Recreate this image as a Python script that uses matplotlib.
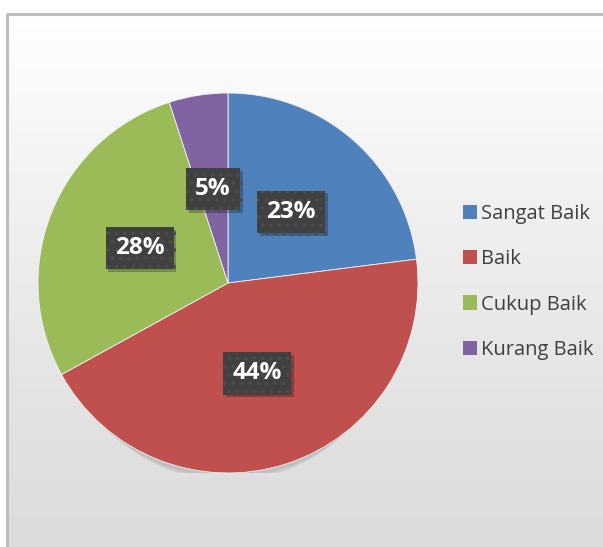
import matplotlib
matplotlib.use("Agg")
import matplotlib.pyplot as plt
import matplotlib.patheffects as pe
from matplotlib.patches import Ellipse
import numpy as np

# Data
categories = ["Sangat Baik", "Baik", "Cukup Baik", "Kurang Baik"]
values = [23, 44, 28, 5]
colors = ["#4F81BD", "#C0504D", "#9BBB59", "#8064A2"]

W, H = 603, 547
plt.rcParams["font.family"] = ["Open Sans", "DejaVu Sans"]
plt.rcParams["hatch.linewidth"] = 1.4

fig = plt.figure(figsize=(W / 100, H / 100), dpi=100)
fig.patch.set_facecolor("white")

# Background panel with vertical gradient and grey frame
bg = fig.add_axes([0, 0, 1, 1])
bg.set_xlim(0, W)
bg.set_ylim(H, 0)
bg.axis("off")
grad = np.linspace(1.0, 0.0, 256) ** 1.2
grad = np.vstack([grad, grad]).T
bg.imshow(grad, extent=[7, W, H, 14], cmap=matplotlib.colors.LinearSegmentedColormap.from_list(
    "bgc", ["#dcdcdc", "#ffffff"]), vmin=0, vmax=1, aspect="auto", zorder=0)
bg.plot([7, 7, W], [H, 14, 14], color="#bdbdbd", lw=2.2, zorder=1, solid_capstyle="butt")

# Pie axes
cx, cy, r = 228, 283, 190
ax = fig.add_axes([(cx - r) / W, (H - cy - r) / H, 2 * r / W, 2 * r / H])
ax.set_xlim(-1, 1)
ax.set_ylim(-1, 1)
ax.axis("off")

# soft shadow below the pie
for k in range(8):
    ax.add_patch(Ellipse((0, -0.02 - 0.004 * k), 1.96 - 0.02 * k, 2.0, color="black",
                         alpha=0.015, zorder=0, lw=0))

wedges, texts, autotexts = ax.pie(
    values, colors=colors, startangle=90, counterclock=False, radius=1,
    autopct="%d%%", pctdistance=0.5,
    wedgeprops=dict(edgecolor="#f4f4f4", linewidth=0.6),
    textprops=dict(color="white", fontsize=17.5, fontweight="bold"),
)
ax.set_xlim(-1, 1)
ax.set_ylim(-1, 1)

for t in autotexts:
    t.set_bbox(dict(boxstyle="square,pad=0.38", facecolor="#404040",
                    edgecolor="#4c4c4c", hatch="..", linewidth=0))
    t.get_bbox_patch().set_path_effects([
        pe.SimplePatchShadow(offset=(2, -2), shadow_rgbFace="black", alpha=0.25),
        pe.Normal(),
    ])

leg = fig.legend(
    wedges, categories, loc="center left",
    bbox_to_anchor=(445 / W, (H - 282) / H),
    frameon=False, fontsize=14.5, labelcolor="#404040",
    handlelength=0.7, handleheight=0.7, handletextpad=0.2,
    labelspacing=1.25,
)
for h in leg.legend_handles:
    h.set_edgecolor("none")

fig.savefig("out.png", dpi=100)
